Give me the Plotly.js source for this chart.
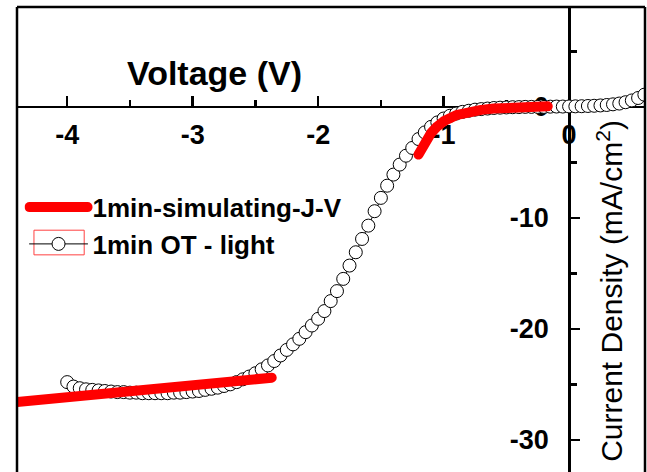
<!DOCTYPE html>
<html><head><meta charset="utf-8">
<script src="https://cdn.plot.ly/plotly-3.0.1.min.js"></script>
<style>html,body{margin:0;padding:0;overflow:hidden;background:#fff}
.js-line{stroke-linecap:round;stroke-linejoin:round}</style>
</head><body><div id="chart" style="width:647px;height:472px"></div>
<script>
// Measured J-V curve (open circles)
const expVoltage = [-4.00,-3.95,-3.90,-3.85,-3.80,-3.75,-3.70,-3.65,-3.60,-3.55,-3.50,-3.45,-3.40,-3.35,-3.30,-3.25,-3.20,-3.15,-3.10,-3.05,
  -3.00,-2.95,-2.90,-2.85,-2.80,-2.75,-2.70,-2.65,-2.60,-2.55,-2.50,-2.45,-2.40,-2.35,-2.30,-2.25,-2.20,-2.15,-2.10,-2.05,
  -2.00,-1.95,-1.90,-1.85,-1.80,-1.75,-1.70,-1.65,-1.60,-1.55,-1.50,-1.45,-1.40,-1.35,-1.30,-1.25,-1.20,-1.15,-1.10,-1.05,
  -1.00,-0.95,-0.90,-0.85,-0.80,-0.75,-0.70,-0.65,-0.60,-0.55,-0.50,-0.45,-0.40,-0.35,-0.30,-0.25,-0.20,-0.15,-0.10,-0.05,
  0.00,0.05,0.10,0.15,0.20,0.25,0.30,0.35,0.40,0.45,0.50,0.55,0.60];
const expCurrent = [-24.8,-25.2,-25.35,-25.45,-25.5,-25.55,-25.6,-25.65,-25.7,-25.7,-25.75,-25.75,-25.8,-25.8,-25.8,-25.8,-25.8,-25.75,-25.75,-25.7,
  -25.65,-25.6,-25.5,-25.4,-25.3,-25.15,-25.0,-24.8,-24.55,-24.3,-24.0,-23.65,-23.3,-22.9,-22.4,-21.9,-21.4,-20.9,-20.3,-19.7,
  -19.1,-18.4,-17.5,-16.6,-15.5,-14.3,-13.1,-11.9,-10.7,-9.4,-8.2,-7.1,-6.1,-5.2,-4.4,-3.7,-2.9,-2.3,-1.8,-1.4,
  -1.05,-0.8,-0.6,-0.45,-0.35,-0.25,-0.2,-0.15,-0.1,-0.07,-0.05,-0.03,-0.02,0,0,0,0,0.02,0.03,0.03,
  0.04,0.05,0.06,0.08,0.1,0.13,0.17,0.23,0.3,0.42,0.58,0.8,1.1];
// Simulated J-V curve (thick red, two segments)
const simVoltage = [-4.4,-4.0,-3.6,-3.2,-2.8,-2.6,-2.37,null,-1.2,-1.15,-1.1,-1.05,-1.0,-0.9,-0.8,-0.7,-0.6,-0.5,-0.4,-0.3,-0.17];
const simCurrent = [-26.6,-26.2,-25.8,-25.4,-25.0,-24.7,-24.4,null,-4.3,-3.1,-2.35,-1.75,-1.3,-0.75,-0.45,-0.27,-0.15,-0.07,-0.02,0.0,0.05];
const seriesNames = ['1min-simulating-J-V', '1min OT - light'];
const xTickVals = [-4,-3,-2,-1,0];
const yTickVals = [-30,-20,-10,0];
const xRange = [-4.4, 0.605];
const yRange = [-32.9, 9.0];

const xAxisPos = (0 - yRange[0]) / (yRange[1] - yRange[0]);
const yAxisPos = (0 - xRange[0]) / (xRange[1] - xRange[0]);
const FONT = 'Liberation Sans, Arial, sans-serif';

const traces = [
  {x: expVoltage, y: expCurrent, name: seriesNames[1], type: 'scatter', mode: 'lines+markers',
   line: {color: '#000000', width: 1},
   marker: {symbol: 'circle', size: 13, color: '#ffffff', line: {color: '#000000', width: 1}}},
  {x: simVoltage, y: simCurrent, name: seriesNames[0], type: 'scatter', mode: 'lines',
   connectgaps: false, line: {color: '#ff0000', width: 10}}
];

const layout = {
  width: 647, height: 472,
  margin: {l: 17, r: 2, t: 7, b: 0, pad: 0},
  paper_bgcolor: '#ffffff', plot_bgcolor: '#ffffff',
  showlegend: true,
  legend: {x: 0.012, y: 0.62, xanchor: 'left', yanchor: 'top', bgcolor: 'rgba(0,0,0,0)',
    itemwidth: 58, tracegroupgap: 0, traceorder: 'reversed',
    font: {family: FONT, size: 26, color: '#000', weight: 'bold'}},
  xaxis: {range: xRange, anchor: 'free', position: xAxisPos, side: 'bottom',
    showgrid: false, zeroline: false, showline: true, linecolor: '#000', linewidth: 2.5,
    tickmode: 'array', tickvals: xTickVals, ticktext: xTickVals.map(String),
    ticks: 'inside', ticklen: 10, tickwidth: 2.5, tickcolor: '#000',
    minor: {dtick: 0.5, ticks: 'inside', ticklen: 6, tickwidth: 2.5, tickcolor: '#000', showgrid: false},
    ticklabelstandoff: 3, layer: 'below traces',
    tickfont: {family: FONT, size: 27, color: '#000', weight: 'bold'}},
  yaxis: {range: yRange, anchor: 'free', position: yAxisPos, side: 'left',
    showgrid: false, zeroline: false, showline: true, linecolor: '#000', linewidth: 2.5,
    tickmode: 'array', tickvals: yTickVals, ticktext: yTickVals.map(String),
    ticks: 'inside', ticklen: 9, tickwidth: 2.5, tickcolor: '#000',
    minor: {dtick: 5, ticks: 'inside', ticklen: 6, tickwidth: 2.5, tickcolor: '#000', showgrid: false},
    ticklabelstandoff: 14, layer: 'below traces',
    tickfont: {family: FONT, size: 27, color: '#000', weight: 'bold'}},
  annotations: [
    {text: 'Voltage (V)', xref: 'paper', yref: 'paper', x: 0.315, y: 0.858,
     xanchor: 'center', yanchor: 'middle', showarrow: false,
     font: {family: FONT, size: 34, color: '#000', weight: 'bold'}},
    {text: 'Current Density (mA/cm<sup>2</sup>)', xref: 'paper', yref: 'paper', x: 0.943, y: 0.39,
     xanchor: 'center', yanchor: 'middle', showarrow: false, textangle: -90,
     font: {family: FONT, size: 30, color: '#000'}}
  ],
  shapes: [
    {type: 'line', xref: 'paper', yref: 'paper', x0: 0, x1: 0, y0: 0, y1: 1, line: {color: '#000', width: 2.5}},
    {type: 'line', xref: 'paper', yref: 'paper', x0: 0, x1: 1, y0: 1, y1: 1, line: {color: '#000', width: 2.5}},
    {type: 'line', xref: 'paper', yref: 'paper', x0: 1, x1: 1, y0: 0, y1: 1, line: {color: '#000', width: 2.5}},
    {type: 'rect', xref: 'paper', yref: 'paper', x0: 0.027, x1: 0.107, y0: 0.467, y1: 0.52,
     line: {color: '#ff4040', width: 1}, fillcolor: 'rgba(0,0,0,0)'}
  ]
};

Plotly.newPlot('chart', traces, layout, {displayModeBar: false, staticPlot: true});
</script></body></html>
